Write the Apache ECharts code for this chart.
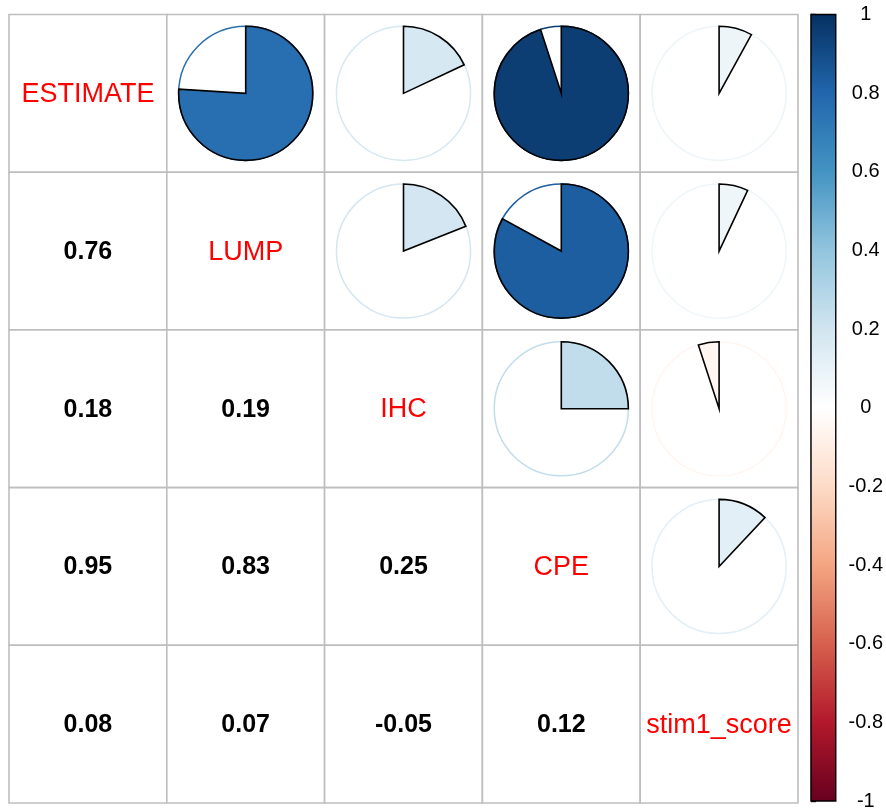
<!DOCTYPE html>
<html>
<head>
<meta charset="utf-8">
<script src="https://cdn.jsdelivr.net/npm/echarts@6/dist/echarts.min.js"></script>
<style>
  html, body { margin: 0; padding: 0; background: #fff; }
  #chart { width: 886px; height: 811px; }
</style>
</head>
<body>
<div id="chart"></div>
<script>
// Variables of the correlation matrix (row / column order)
const variables = ['ESTIMATE', 'LUMP', 'IHC', 'CPE', 'stim1_score'];

// Correlation coefficients, one array per variable
const corrEstimate = [1.00, 0.76, 0.18, 0.95, 0.08];
const corrLump     = [0.76, 1.00, 0.19, 0.83, 0.07];
const corrIhc      = [0.18, 0.19, 1.00, 0.25, -0.05];
const corrCpe      = [0.95, 0.83, 0.25, 1.00, 0.12];
const corrStim1    = [0.08, 0.07, -0.05, 0.12, 1.00];

// Colour legend tick values
const legendTicks = [-1, -0.8, -0.6, -0.4, -0.2, 0, 0.2, 0.4, 0.6, 0.8, 1];

// Diverging RdBu palette from -1 (dark red) to 1 (dark blue)
const palette = ['#67001F', '#B2182B', '#D6604D', '#F4A582', '#FDDBC7', '#FFFFFF',
                 '#D1E5F0', '#92C5DE', '#4393C3', '#2166AC', '#053061'];

const corrMatrix = [corrEstimate, corrLump, corrIhc, corrCpe, corrStim1];

function hexToRgb(h) {
  return [parseInt(h.slice(1, 3), 16), parseInt(h.slice(3, 5), 16), parseInt(h.slice(5, 7), 16)];
}
function colorFor(v) {
  const pos = (Math.max(-1, Math.min(1, v)) + 1) / 2 * (palette.length - 1);
  const i = Math.min(Math.floor(pos), palette.length - 2);
  const t = pos - i;
  const a = hexToRgb(palette[i]), b = hexToRgb(palette[i + 1]);
  const c = a.map((x, k) => Math.round(x + (b[k] - x) * t));
  return 'rgb(' + c.join(',') + ')';
}

// One data item per matrix cell: [column, row, value]
const cellData = [];
corrMatrix.forEach((row, r) => row.forEach((v, c) => cellData.push([c, r, v])));

const FONT = '"Liberation Sans", Arial, sans-serif';

function renderCell(params, api) {
  const c = api.value(0), r = api.value(1), v = api.value(2);
  const p0 = api.coord([c, r]);
  const p1 = api.coord([c + 1, r + 1]);
  const ctr = api.coord([c + 0.5, r + 0.5]);
  const w = p1[0] - p0[0], h = p1[1] - p0[1];
  const children = [{
    type: 'rect',
    shape: { x: p0[0], y: p0[1], width: w, height: h },
    style: { fill: '#fff', stroke: '#BEBEBE', lineWidth: 1.6 }
  }];
  if (r === c) {
    children.push({
      type: 'text',
      style: { text: variables[r], x: ctr[0], y: ctr[1] + 1, textAlign: 'center', textVerticalAlign: 'middle',
               font: '27px ' + FONT, fill: '#FF0000' }
    });
  } else if (r > c) {
    children.push({
      type: 'text',
      style: { text: v.toFixed(2), x: ctr[0], y: ctr[1] + 1, textAlign: 'center', textVerticalAlign: 'middle',
               font: 'bold 25px ' + FONT, fill: '#000' }
    });
  } else {
    const col = colorFor(v);
    const rad = 0.425 * w;
    children.push({
      type: 'circle',
      shape: { cx: ctr[0], cy: ctr[1], r: rad },
      style: { fill: '#fff', stroke: col, lineWidth: 1.5 }
    });
    const start = -Math.PI / 2;
    children.push({
      type: 'sector',
      shape: { cx: ctr[0], cy: ctr[1], r: rad, r0: 0, startAngle: start,
               endAngle: start + v * 2 * Math.PI, clockwise: v >= 0 },
      style: { fill: col, stroke: '#000', lineWidth: 1.6 }
    });
  }
  return { type: 'group', children: children };
}

function renderLegendBar(params, api) {
  const top = api.coord([0, 1]);
  const bottom = api.coord([1, -1]);
  const stops = palette.map((p, i) => ({ offset: i / (palette.length - 1), color: p }));
  return {
    type: 'rect',
    shape: { x: top[0], y: top[1], width: bottom[0] - top[0], height: bottom[1] - top[1] },
    style: {
      fill: { type: 'linear', x: 0, y: 1, x2: 0, y2: 0, colorStops: stops },
      stroke: '#000', lineWidth: 1.4
    }
  };
}

const chart = echarts.init(document.getElementById('chart'), null, { renderer: 'canvas' });
chart.setOption({
  animation: false,
  backgroundColor: '#fff',
  grid: [
    { left: 9, top: 14.5, width: 789, height: 788.5 },
    { left: 811, top: 14.5, width: 25, height: 788.5 }
  ],
  xAxis: [
    { gridIndex: 0, type: 'value', min: 0, max: 5, show: false },
    { gridIndex: 1, type: 'value', min: 0, max: 1, show: false }
  ],
  yAxis: [
    { gridIndex: 0, type: 'value', min: 0, max: 5, inverse: true, show: false },
    {
      gridIndex: 1, type: 'value', min: legendTicks[0], max: legendTicks[legendTicks.length - 1],
      interval: 0.2, position: 'right',
      axisLine: { show: true, lineStyle: { color: '#000', width: 1.4 } },
      axisTick: { show: true, inside: false, length: 5, lineStyle: { color: '#000', width: 1.4 } },
      splitLine: { show: false },
      axisLabel: {
        show: true, align: 'center', margin: 30, fontFamily: FONT, fontSize: 20, color: '#000',
        formatter: v => {
          const t = legendTicks.find(x => Math.abs(x - v) < 1e-9);
          return t === undefined ? '' : String(t);
        }
      }
    }
  ],
  series: [
    {
      type: 'custom', xAxisIndex: 0, yAxisIndex: 0, data: cellData,
      renderItem: renderCell, silent: true
    },
    {
      type: 'custom', xAxisIndex: 1, yAxisIndex: 1, data: [[0, 0]],
      renderItem: renderLegendBar, silent: true
    }
  ]
});
</script>
</body>
</html>
